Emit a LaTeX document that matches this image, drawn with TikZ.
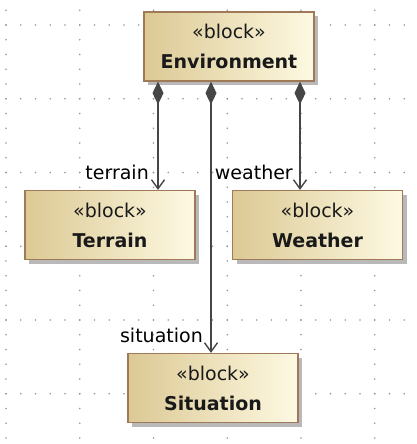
\documentclass[tikz,border=0pt]{standalone}
\usepackage{fontspec}
\setmainfont{DejaVu Sans}
\usetikzlibrary{arrows.meta,shadows}

\definecolor{blockdark}{RGB}{220,201,148}
\definecolor{blocklight}{RGB}{253,249,226}
\definecolor{blockline}{RGB}{160,122,88}
\definecolor{wire}{RGB}{70,70,70}
\definecolor{griddot}{RGB}{150,150,150}

\begin{document}
\begin{tikzpicture}[x=1pt,y=-1pt,
    block/.style={draw=blockline, line width=1.2pt, left color=blockdark,
      right color=blocklight, minimum width=170pt, minimum height=69pt,
      align=center, font=\fontsize{19}{30}\selectfont, text=black!90,
      drop shadow={shadow xshift=4pt, shadow yshift=-4pt, fill=gray!55, opacity=1}},
    comp/.style={draw=wire, line width=1.4pt,
      {Diamond[length=23pt,width=11pt,fill=wire]}-{Straight Barb[length=9pt,width=13pt]}},
    lbl/.style={font=\fontsize{19}{22}\selectfont, inner sep=1pt}]
  \useasboundingbox (0,0) rectangle (417,444);
  % dotted background grid
  \foreach \r in {25,98.75,172.5,246.25,320,393.75}
    \foreach \i in {0,...,28}
      \fill[griddot] ({-8.75+14.75*\i},\r) circle (0.9);
  \foreach \c in {6,79.75,153.5,227.25,301,374.75}
    \foreach \j in {0,...,30}
      \fill[griddot] (\c,{-4.5+14.75*\j}) circle (0.9);
  % blocks
  \node[block] (env) at (229,46.5) {«block»\\\textbf{Environment}};
  \node[block] (terrain) at (110,225) {«block»\\\textbf{Terrain}};
  \node[block] (weather) at (317.5,225) {«block»\\\textbf{Weather}};
  \node[block] (situation) at (213,388) {«block»\\\textbf{Situation}};
  % composition links
  \coordinate (tx) at (158,0);
  \coordinate (sx) at (211,0);
  \coordinate (wx) at (300,0);
  \draw[comp] (tx |- env.south) -- (tx |- terrain.north);
  \draw[comp] (sx |- env.south) -- (sx |- situation.north);
  \draw[comp] (wx |- env.south) -- (wx |- weather.north);
  % role names
  \node[lbl, anchor=east] (terrainrole) at (150,172) {terrain};
  \node[lbl, anchor=east] (weatherrole) at (294,172) {weather};
  \node[lbl, anchor=east] (situationrole) at (204,335) {situation};
\end{tikzpicture}
\end{document}
